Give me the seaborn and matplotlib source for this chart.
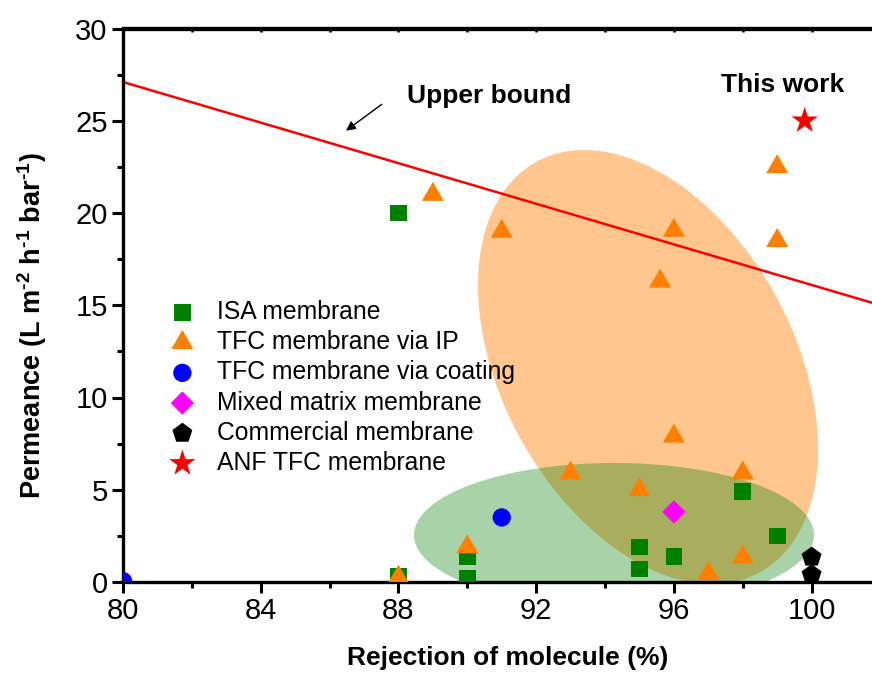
import numpy as np
import pandas as pd
import matplotlib
matplotlib.use("Agg")
import matplotlib.pyplot as plt
import matplotlib.transforms as mtransforms
from matplotlib.patches import Ellipse
from matplotlib.ticker import MultipleLocator
import seaborn as sns

# ---------------- data ----------------
isa_x = [88, 88, 90, 90, 95, 95, 96, 98, 99]
isa_y = [20.0, 0.3, 1.4, 0.2, 1.9, 0.7, 1.4, 4.9, 2.5]

ip_x = [88, 89, 90, 91, 93, 95, 95.6, 96, 96, 97, 98, 98, 99, 99]
ip_y = [0.25, 21.0, 1.9, 19.0, 5.9, 5.0, 16.3, 19.05, 7.9, 0.45, 5.9, 1.35, 22.5, 18.5]

coat_x = [80, 91]
coat_y = [0.05, 3.5]

mmm_x = [96]
mmm_y = [3.8]

com_x = [100, 100]
com_y = [1.35, 0.4]

anf_x = [99.8]
anf_y = [25.0]

bound_x = [80, 102]
bound_y = [27.1, 15.0]

labels = ["ISA membrane", "TFC membrane via IP", "TFC membrane via coating",
          "Mixed matrix membrane", "Commercial membrane", "ANF TFC membrane"]
xs = [isa_x, ip_x, coat_x, mmm_x, com_x, anf_x]
ys = [isa_y, ip_y, coat_y, mmm_y, com_y, anf_y]

x_ticks = [80, 84, 88, 92, 96, 100]
y_ticks = [0, 5, 10, 15, 20, 25, 30]

# ---------------- style ----------------
sns.set_style("ticks")
plt.rcParams["font.family"] = ["Liberation Sans", "DejaVu Sans"]
plt.rcParams["mathtext.fontset"] = "custom"
plt.rcParams["mathtext.rm"] = "Liberation Sans"
plt.rcParams["mathtext.bf"] = "Liberation Sans:bold"
plt.rcParams["mathtext.default"] = "bf"
for k in ["text.color", "axes.labelcolor", "xtick.color", "ytick.color", "axes.edgecolor"]:
    plt.rcParams[k] = "black"

tri = [(-1, -0.5774), (1, -0.5774), (0, 1.1547)]
colors = ["#008000", "#FF8000", "#0000FF", "#FF00FF", "#000000", "#FF0000"]
markers = ["s", tri, "o", "D", "p", "*"]
sizes = [144, 335, 174, 141, 229, 400]

fig = plt.figure(figsize=(8.72, 6.78), dpi=100)
ax = fig.add_axes([123 / 872, 96 / 678, 749 / 872, 553.5 / 678])
ax.set_xlim(80, 101.754)
ax.set_ylim(0, 30)

# shaded regions (display-size ellipses anchored at data centres)
def add_ellipse(cx, cy, w_in, h_in, ang, color, alpha, z):
    tr = fig.dpi_scale_trans + mtransforms.ScaledTranslation(cx, cy, ax.transData)
    e = Ellipse((0, 0), w_in, h_in, angle=ang, transform=tr,
                facecolor=color, edgecolor="none", alpha=alpha, zorder=z)
    ax.add_patch(e)

add_ellipse(95.25, 11.65, 4.674, 2.926, 118.4, "#FF8000", 0.44, 1)
add_ellipse(94.26, 2.55, 4.00, 1.44, 0, "#008000", 0.34, 1.1)

# upper bound line
sns.lineplot(x=bound_x, y=bound_y, color="#FF0000", linewidth=1.8, ax=ax, zorder=2)

# scatter groups
for lab, x, y, c, m, s in zip(labels, xs, ys, colors, markers, sizes):
    df = pd.DataFrame({"x": x, "y": y})
    sns.scatterplot(data=df, x="x", y="y", marker=m, s=s, color=c,
                    linewidth=0, edgecolor="none", ax=ax, zorder=3, label=lab)

# annotations
ax.text(88.25, 25.96, "Upper bound", fontsize=19, fontweight="bold", ha="left",
        va="baseline", color="black")
ax.text(97.37, 26.56, "This work", fontsize=19, fontweight="bold", ha="left",
        va="baseline", color="black")
ax.annotate("", xy=(86.41, 24.37), xytext=(87.58, 25.98),
            arrowprops=dict(arrowstyle="-|>", color="black", lw=1.0, mutation_scale=14))

# axes styling
ax.set_xticks(x_ticks)
ax.set_yticks(y_ticks)
ax.xaxis.set_minor_locator(MultipleLocator(2))
ax.yaxis.set_minor_locator(MultipleLocator(2.5))
ax.tick_params(which="major", direction="out", length=8, width=2.2, labelsize=21, pad=3,
               color="black", labelcolor="black")
ax.tick_params(which="minor", direction="out", length=4, width=2.2, color="black")
for sp in ["left", "bottom", "top"]:
    ax.spines[sp].set_linewidth(2.4)
    ax.spines[sp].set_color("black")
ax.spines["right"].set_visible(False)
ax.set_xlabel("")
ax.set_ylabel("")

sec = ax.secondary_xaxis("top")
sec.set_xticks(list(range(80, 102, 2)))
sec.tick_params(direction="in", length=3, width=1.8, labeltop=False, color="black")
sec.spines["top"].set_linewidth(2.4)
sec.spines["top"].set_color("black")

fig.text(508 / 872, 1 - 658 / 678, "Rejection of molecule (%)", fontsize=19,
         fontweight="bold", ha="center", va="center", color="black")
fig.text(32 / 872, 1 - 325.5 / 678, "Permeance (L m$^{\u20102}$ h$^{\u20101}$ bar$^{\u20101}$)",
         fontsize=19.5, fontweight="bold", rotation=90, ha="center", va="center",
         color="black")

leg = ax.legend(loc="upper left", bbox_to_anchor=(162.6 / 872, 1 - 300 / 678),
                bbox_transform=fig.transFigure, frameon=False, fontsize=17.8,
                borderpad=0, borderaxespad=0, labelspacing=0.25,
                handlelength=1.6, handletextpad=0.62)
for t in leg.get_texts():
    t.set_color("black")

fig.savefig("out.png", dpi=100)
